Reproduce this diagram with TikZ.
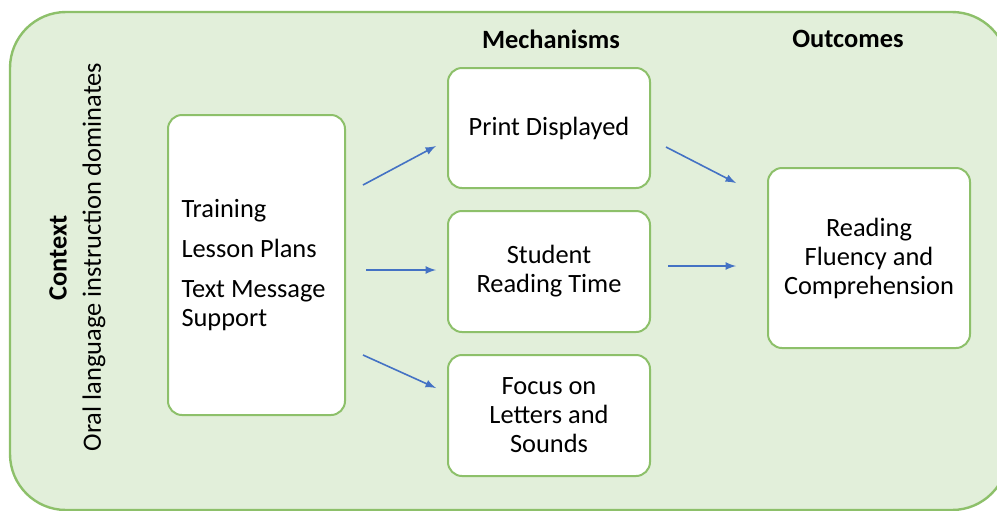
\documentclass[tikz,border=0pt]{standalone}
\usepackage{fontspec}
\setmainfont{Carlito}
\usetikzlibrary{calc}
\definecolor{ctxfill}{RGB}{226,239,218}
\definecolor{ctxline}{RGB}{141,192,106}
\definecolor{flowblue}{RGB}{68,114,196}

\begin{document}
\begin{tikzpicture}[
  x=0.5pt,
  y=-0.5pt,
  font=\fontsize{13.2}{14.5}\selectfont,
  box/.style={
    draw=ctxline,
    line width=1pt,
    fill=white,
    rounded corners=7pt,
    align=center,
    minimum width=101pt
  },
  head/.style={
    font=\fontsize{13.2}{14.5}\selectfont\bfseries
  },
  flow/.style={
    -latex,
    draw=flowblue,
    line width=0.8pt
  }
]
  \useasboundingbox (0,0) rectangle (997,510);
  \begin{scope}
    \clip (0,0) rectangle (997,510);
    \draw[fill=ctxfill,draw=ctxline,line width=1.2pt,rounded corners=28pt]
      (10,12) rectangle (1008,510);
  \end{scope}

  \node[rotate=90,head] (context) at (58,258) {Context};
  \node[rotate=90] (oral) at (94,257) {Oral language instruction dominates};

  \node[head] (mech) at (551,39) {Mechanisms};
  \node[head] (outc) at (848,39) {Outcomes};

  \node[box,align=flush left,text width=75pt,inner xsep=6.5pt,
    minimum height=150pt,minimum width=88.5pt] (inputs) at (256.5,265)
    {Training\\[5.5pt]Lesson Plans\\[5.5pt]Text Message\\Support};

  \node[box,minimum height=60pt] (print) at (549,128) {Print Displayed};
  \node[box,minimum height=60.5pt] (time) at (549,271.5)
    {Student\\Reading Time};
  \node[box,minimum height=60.5pt] (focus) at (549,415.5)
    {Focus on\\Letters and\\Sounds};

  \node[box,minimum height=90pt] (fluency) at (869,258)
    {Reading\\Fluency and\\Comprehension};

  \draw[flow] ($(inputs.east)+(17,-80)$) -- ($(print.west)+(-11,18)$);
  \draw[flow] ($(inputs.east)+(20,5)$) -- ($(time.west)+(-11,-1.5)$);
  \draw[flow] ($(inputs.east)+(17,90)$) -- ($(focus.west)+(-11,-27.5)$);
  \draw[flow] ($(print.east)+(15,19)$) -- ($(fluency.west)+(-31,-75)$);
  \draw[flow] ($(time.east)+(17,-5.5)$) -- ($(fluency.west)+(-31,8)$);
\end{tikzpicture}
\end{document}
